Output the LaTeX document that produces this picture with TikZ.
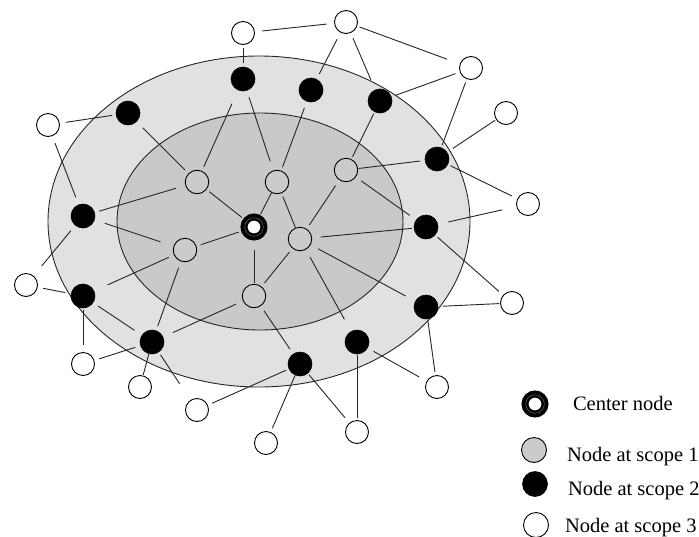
\documentclass[tikz,border=0pt]{standalone}
\usepackage{fontspec}
\setmainfont{Liberation Serif}
\begin{document}
\definecolor{ringouter}{HTML}{E1E1E1}
\definecolor{ringinner}{HTML}{C9C9C9}
\definecolor{scopeone}{HTML}{CBCBCB}
\definecolor{inkline}{HTML}{262626}
\begin{tikzpicture}[x=1pt,y=-1pt,
  every node/.style={inner sep=0pt, outer sep=0pt},
  sone/.style={circle, draw=black, line width=0.9pt, fill=scopeone, minimum size=23.5pt},
  stwo/.style={circle, fill=black, draw=black, line width=0.6pt, minimum size=24pt},
  sthree/.style={circle, draw=black, line width=0.9pt, fill=white, minimum size=23pt},
  hub/.style={circle, draw=black, line width=7pt, fill=white, minimum size=20pt, outer sep=3.5pt},
  link/.style={draw=inkline, line width=0.9pt},
  legendtext/.style={anchor=base west, font=\fontsize{20.5}{24}\selectfont}
]
\useasboundingbox (0,0) rectangle (699,536);

% scope regions
\draw[fill=ringouter, draw=inkline, line width=0.9pt] (259,221.5) ellipse [x radius=211, y radius=165.5];
\draw[fill=ringinner, draw=inkline, line width=0.9pt] (260,221.5) ellipse [x radius=143, y radius=108.5];

% center node
\node[hub] (c) at (254,227) {};
\draw[black!55, line width=0.4pt] (c.center) circle (9.3);

% scope 1 nodes
\node[sone] (g1) at (197,182) {};
\node[sone] (g2) at (277,182) {};
\node[sone] (g3) at (346,170) {};
\node[sone] (g4) at (300,239) {};
\node[sone] (g5) at (185,250) {};
\node[sone] (g6) at (254,296) {};

% scope 2 nodes
\node[stwo] (b1) at (243,79) {};
\node[stwo] (b2) at (311,90) {};
\node[stwo] (b3) at (380,101) {};
\node[stwo] (b4) at (128,113) {};
\node[stwo] (b5) at (437,159) {};
\node[stwo] (b6) at (83,216) {};
\node[stwo] (b7) at (426,227) {};
\node[stwo] (b8) at (83,296) {};
\node[stwo] (b9) at (426,307) {};
\node[stwo] (b10) at (152,342) {};
\node[stwo] (b11) at (357,342) {};
\node[stwo] (b12) at (300,364) {};

% scope 3 nodes
\node[sthree] (w1) at (243,33) {};
\node[sthree] (w2) at (346,22) {};
\node[sthree] (w3) at (471,68) {};
\node[sthree] (w4) at (506,113) {};
\node[sthree] (w5) at (48,125) {};
\node[sthree] (w6) at (528,204) {};
\node[sthree] (w7) at (26,285) {};
\node[sthree] (w8) at (512,303) {};
\node[sthree] (w9) at (83,364) {};
\node[sthree] (w10) at (140,387) {};
\node[sthree] (w11) at (437,387) {};
\node[sthree] (w12) at (197,410) {};
\node[sthree] (w13) at (357,432) {};
\node[sthree] (w14) at (266,443) {};

% links
\draw[link, shorten <=8pt, shorten >=8pt] (w1) -- (w2);
\draw[link, shorten <=3pt, shorten >=4pt] (w1) -- (b1);
\draw[link, shorten <=8pt, shorten >=6pt] (w2) -- (b2);
\draw[link, shorten <=6pt, shorten >=11pt] (w2) -- (b3);
\draw[link, shorten <=3pt, shorten >=14pt] (w2) -- (w3);
\draw[link, shorten <=7pt, shorten >=10pt] (b1) -- (g2);
\draw[link, shorten <=5pt, shorten >=15pt] (g1) -- (b1);
\draw[link, shorten <=7pt, shorten >=4pt] (b2) -- (g2);
\draw[link, shorten <=2pt, shorten >=3pt] (b3) -- (g3);
\draw[link, shorten <=1pt, shorten >=5pt] (g3) -- (b5);
\draw[link, shorten <=7pt, shorten >=8pt] (g3) -- (b7);
\draw[link, shorten <=4pt, shorten >=5pt] (b3) -- (w3);
\draw[link, shorten <=4pt, shorten >=3pt] (w3) -- (b5);
\draw[link, shorten <=7pt, shorten >=1.5pt] (b5) -- (w4);
\draw[link, shorten <=3pt, shorten >=6.5pt] (b5) -- (w6);
\draw[link, shorten <=11pt, shorten >=15pt] (b7) -- (w6);
\draw[link, shorten <=6.5pt, shorten >=4pt] (w5) -- (b4);
\draw[link, shorten <=8pt, shorten >=8pt] (w5) -- (b6);
\draw[link, shorten <=9pt, shorten >=5pt] (b4) -- (g1);
\draw[link, shorten <=10pt, shorten >=5pt] (g1) -- (b6);
\draw[link, shorten <=11pt, shorten >=14pt] (b6) -- (g5);
\draw[link, shorten <=7pt, shorten >=13pt] (b6) -- (w7);
\draw[link, shorten <=6pt, shorten >=6pt] (w7) -- (b8);
\draw[link, shorten <=6pt, shorten >=15pt] (g5) -- (b8);
\draw[link, shorten <=7pt, shorten >=5pt] (g5) -- (b10);
\draw[link, shorten <=4pt, shorten >=2pt] (g1) -- (c);
\draw[link, shorten <=0.5pt, shorten >=1pt] (g2) -- (c);
\draw[link, shorten <=5pt, shorten >=2.5pt] (g5) -- (c);
\draw[link, shorten <=9pt, shorten >=1.5pt] (c) -- (g6);
\draw[link, shorten <=4pt, shorten >=0.5pt] (g2) -- (g4);
\draw[link, shorten <=7pt, shorten >=5pt] (g3) -- (g4);
\draw[link, shorten <=5pt, shorten >=5pt] (g4) -- (g6);
\draw[link, shorten <=9pt, shorten >=2pt] (g4) -- (b7);
\draw[link, shorten <=9pt, shorten >=11pt] (g4) -- (b9);
\draw[link, shorten <=9pt, shorten >=14pt] (g4) -- (b11);
\draw[link, shorten <=6pt, shorten >=6pt] (g6) -- (b12);
\draw[link, shorten <=8pt, shorten >=11pt] (g6) -- (b10);
\draw[link, shorten <=6pt, shorten >=9pt] (b8) -- (b10);
\draw[link, shorten <=2pt, shorten >=7.5pt] (b8) -- (w9);
\draw[link, shorten <=5.5pt, shorten >=5.5pt] (w9) -- (b10);
\draw[link, shorten <=0.5pt, shorten >=1pt] (b10) -- (w10);
\draw[link, shorten <=3.5pt, shorten >=20pt] (b10) -- (w12);
\draw[link, shorten <=5pt, shorten >=3pt] (w12) -- (b12);
\draw[link, shorten <=0.5pt, shorten >=4.5pt] (b12) -- (w14);
\draw[link, shorten <=2pt, shorten >=7pt] (b12) -- (w13);
\draw[link, shorten <=0.5pt, shorten >=2.5pt] (b11) -- (w13);
\draw[link, shorten <=7pt, shorten >=9pt] (b11) -- (w11);
\draw[link, shorten <=1.5pt, shorten >=3.5pt] (b9) -- (w11);
\draw[link, shorten <=5pt, shorten >=1.5pt] (b9) -- (w8);
\draw[link, shorten <=3.5pt, shorten >=6pt] (b7) -- (w8);

% legend
\node[hub] (keyhub) at (535,404) {};
\draw[black!55, line width=0.4pt] (keyhub.center) circle (9.3);
\node[sone, minimum size=25pt] (keyone) at (534,450) {};
\node[stwo, minimum size=25pt] (keytwo) at (535,484) {};
\node[sthree, minimum size=25pt] (keythree) at (536,525) {};
\node[legendtext] (keyhubtext) at (573,410) {Center node};
\node[legendtext] (keyonetext) at (567,461) {Node at scope 1};
\node[legendtext] (keytwotext) at (568,495) {Node at scope 2};
\node[legendtext] (keythreetext) at (565,532) {Node at scope 3};
\end{tikzpicture}
\end{document}
